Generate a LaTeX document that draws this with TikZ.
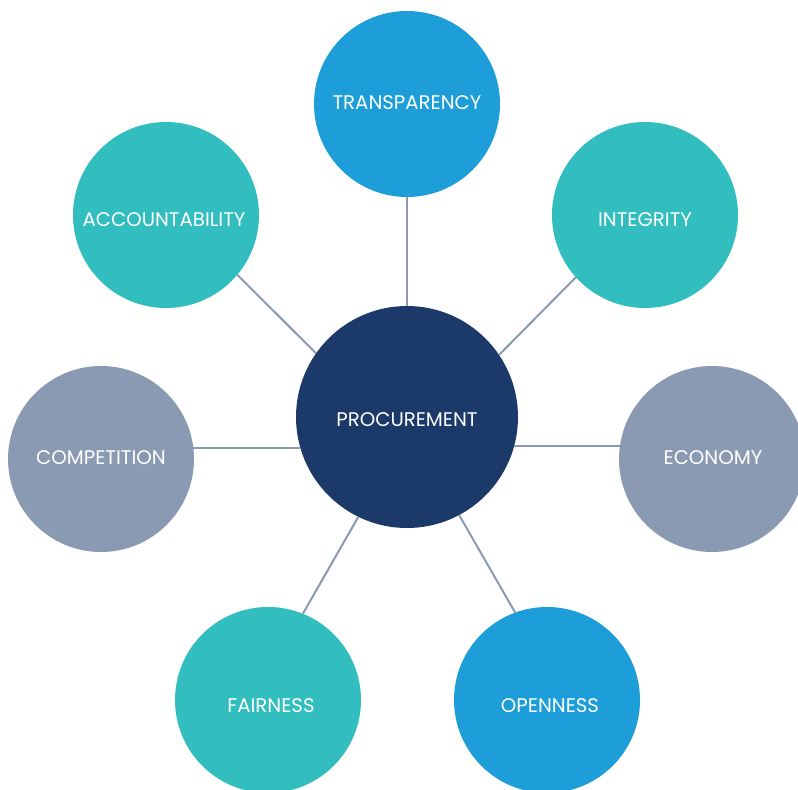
\documentclass[tikz,border=0pt]{standalone}
\usepackage{fontspec}
\setmainfont{Poppins}
\definecolor{teal}{HTML}{32BDBF}
\definecolor{sky}{HTML}{1E9ED9}
\definecolor{slate}{HTML}{8A9AB3}
\definecolor{navy}{HTML}{1B3A69}
\begin{document}
\begin{tikzpicture}[x=0.75pt,y=-0.75pt,
  bub/.style={circle,inner sep=0pt,outer sep=0pt,minimum size=139.5pt},
  hub/.style={bub,minimum size=166.5pt,fill=navy},
  txt/.style={text=white,inner sep=0pt,font=\fontsize{14.8pt}{17pt}\selectfont},
  link/.style={draw=slate,line width=1.5pt}]
\useasboundingbox (0,0) rectangle (798,789);
\node[hub] (proc) at (407,417) {};
\node[bub,fill=sky] (trans) at (407,104) {};
\node[bub,fill=teal] (acc) at (166,215) {};
\node[bub,fill=teal] (integ) at (645,215) {};
\node[bub,fill=slate] (comp) at (101,459) {};
\node[bub,fill=slate] (econ) at (712,459) {};
\node[bub,fill=teal] (fair) at (268,700) {};
\node[bub,fill=sky] (open) at (547,700) {};
\node[txt] (procT) at (407,420) {PROCUREMENT};
\node[txt] (transT) at (407,102.5) {TRANSPARENCY};
\node[txt] (accT) at (164,220) {ACCOUNTABILITY};
\node[txt] (integT) at (645,220) {INTEGRITY};
\node[txt] (compT) at (101,458) {COMPETITION};
\node[txt] (econT) at (713,458) {ECONOMY};
\node[txt] (fairT) at (271,706) {FAIRNESS};
\node[txt] (openT) at (550,706) {OPENNESS};
\draw[link] (trans.270) -- (proc.90);
\draw[link] (acc.-40.7) -- (proc.145);
\draw[link] (integ.222) -- (proc.34);
\draw[link] (comp.7.4) -- (comp.7.4 -| proc.195.7);
\draw[link] (econ.172.6) -- (econ.172.6 -| proc.-15.7);
\draw[link] (fair.68) -- (proc.244);
\draw[link] (open.110.6) -- (proc.-62.5);
\end{tikzpicture}
\end{document}
